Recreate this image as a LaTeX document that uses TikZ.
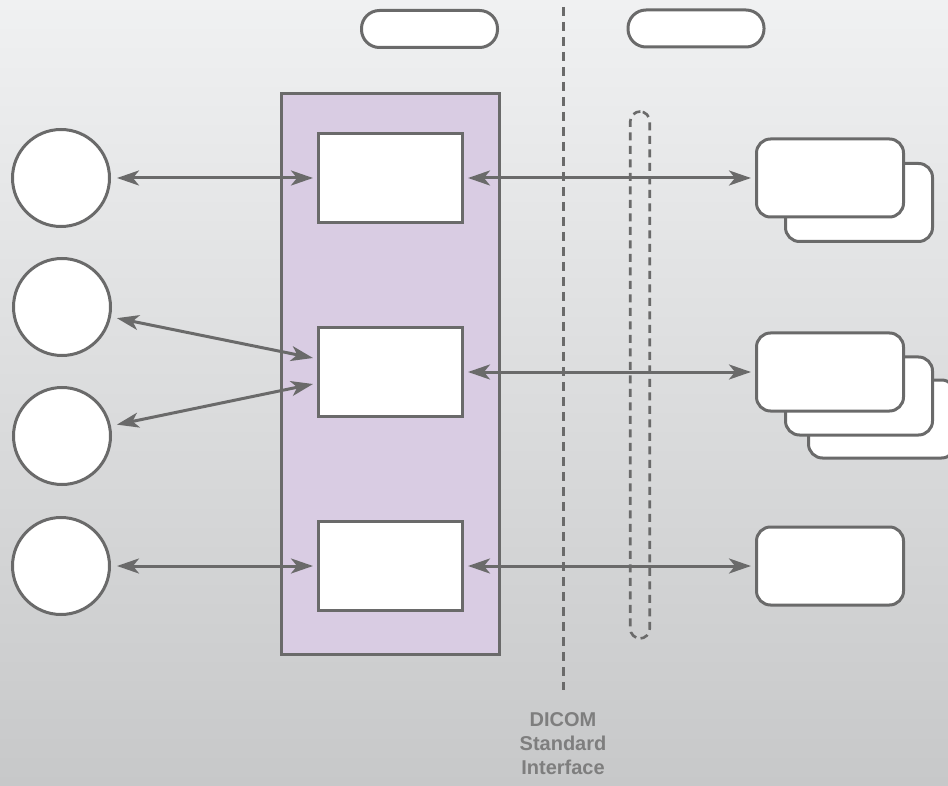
\documentclass[tikz,border=0pt]{standalone}
\usepackage{fontspec}
\setmainfont{Liberation Sans}
\usetikzlibrary{arrows.meta}
\definecolor{edge}{HTML}{6A6A6A}
\definecolor{bgtop}{HTML}{F0F1F2}
\definecolor{bgbot}{HTML}{C7C8C9}
\definecolor{lilac}{HTML}{D9CCE3}
\definecolor{txt}{HTML}{7E7E7E}
\tikzset{
  circ/.style={circle, draw=edge, fill=white, line width=3pt, minimum size=97pt, inner sep=0pt, outer sep=7.5pt},
  ibox/.style={rectangle, draw=edge, fill=white, line width=3pt, minimum width=144pt, minimum height=89pt, inner sep=0pt, outer sep=5.5pt},
  rbox/.style={rectangle, rounded corners=14pt, draw=edge, fill=white, line width=3pt, minimum width=147pt, minimum height=78pt, inner sep=0pt, outer sep=5.5pt},
  pill/.style={rectangle, rounded corners=18pt, draw=edge, fill=white, line width=3pt, minimum width=136pt, minimum height=37pt, inner sep=0pt},
  conn/.style={draw=edge, line width=3pt, {Stealth[length=22pt,width=15pt,inset=6pt]}-{Stealth[length=22pt,width=15pt,inset=6pt]}},
  dashline/.style={draw=edge, line width=3pt, dash pattern=on 9pt off 6pt},
}
\begin{document}
\begin{tikzpicture}[x=1pt,y=-1pt]
\useasboundingbox (0,0) rectangle (948,786);
\shade[top color=bgtop, bottom color=bgbot] (0,0) rectangle (948,786);

% purple system box
\node[rectangle, draw=edge, fill=lilac, line width=3pt, minimum width=218pt, minimum height=561pt, inner sep=0pt] (sys) at (390.5,374) {};

% DICOM interface dashed line
\coordinate (dtop) at (563,7);
\coordinate (dbot) at (563,690);
\draw[dashline] (dtop) -- (dbot);

% dashed pill
\node[rectangle, rounded corners=10pt, draw=edge, line width=2.6pt, dash pattern=on 8pt off 5.5pt, minimum width=19.5pt, minimum height=527pt, inner sep=0pt] (dp) at (640,375) {};

% top pills
\node[pill] (p1) at (429.5,29) {};
\node[pill] (p2) at (696,28.5) {};

% circles
\node[circ] (c1) at (61,178) {};
\node[circ] (c2) at (62,307) {};
\node[circ] (c3) at (62,436) {};
\node[circ] (c4) at (61,566) {};

% inner boxes
\node[ibox] (b1) at (390.5,178) {};
\node[ibox] (b2) at (390.5,372) {};
\node[ibox] (b3) at (390.5,566) {};

% right boxes
\node[rbox] (r1b) at (859,202.5) {};
\node[rbox] (r1) at (830,178) {};
\node[rbox] (r2c) at (882,419) {};
\node[rbox] (r2b) at (859,396) {};
\node[rbox] (r2) at (830,372) {};
\node[rbox] (r3) at (830,566) {};

% connectors
\coordinate (b2u) at (313,358);
\coordinate (b2l) at (313,384);
\draw[conn] (c1) -- (b1);
\draw[conn] (c2) -- (b2u);
\draw[conn] (c3) -- (b2l);
\draw[conn] (c4) -- (b3);
\draw[conn] (b1) -- (r1);
\draw[conn] (b2) -- (r2);
\draw[conn] (b3) -- (r3);

% label
\node[anchor=north, align=center, inner sep=0pt, text=txt, font=\fontsize{20}{24}\selectfont\bfseries] (lbl) at (563,712) {DICOM\\Standard\\Interface};
\end{tikzpicture}
\end{document}
